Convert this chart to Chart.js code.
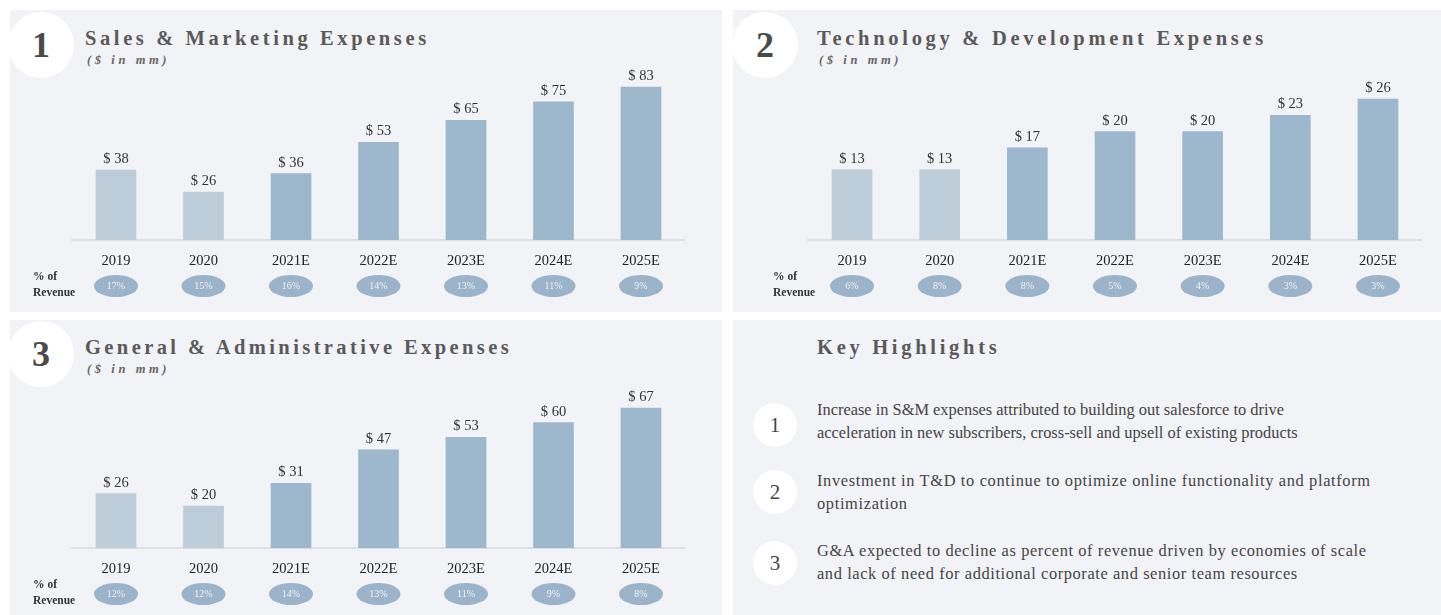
<!DOCTYPE html>
<html><head><meta charset="utf-8">
<script src="https://cdn.jsdelivr.net/npm/chart.js@4.4.0/dist/chart.umd.min.js"></script>
<style>
html,body{margin:0;padding:0;background:#fff;width:1441px;height:615px;overflow:hidden;font-family:"Liberation Serif","DejaVu Serif",serif;}
.panel{position:absolute;background:#f2f3f7;}
.circ{position:absolute;border-radius:50%;background:#fff;display:flex;align-items:center;justify-content:center;color:#4a4a4a;font-family:"Liberation Serif",serif;font-weight:bold;}
.title{position:absolute;color:#5a5a5a;font-weight:bold;font-size:20.5px;letter-spacing:3.6px;white-space:nowrap;}
.sub{position:absolute;color:#666;font-weight:bold;font-style:italic;font-size:12.5px;letter-spacing:3.6px;white-space:nowrap;}
canvas{position:absolute;}
.hl{position:absolute;left:817px;font-size:16.4px;color:#444;line-height:23px;white-space:nowrap;letter-spacing:0px;}
</style></head>
<body>
<div class="panel" style="left:10px;top:10px;width:712px;height:302px"></div>
<div class="panel" style="left:733px;top:10px;width:708px;height:302px"></div>
<div class="panel" style="left:10px;top:320px;width:712px;height:295px"></div>
<div class="panel" style="left:733px;top:320px;width:708px;height:295px"></div>

<div class="circ" style="left:8px;top:12px;width:66px;height:66px;font-size:36px">1</div>
<div class="circ" style="left:732px;top:12px;width:66px;height:66px;font-size:36px">2</div>
<div class="circ" style="left:8px;top:321px;width:66px;height:66px;font-size:36px">3</div>

<div class="title" style="left:85px;top:27px">Sales &amp; Marketing Expenses</div>
<div class="sub" style="left:87px;top:53px">($ in mm)</div>
<div class="title" style="left:817px;top:27px;letter-spacing:3.7px">Technology &amp; Development Expenses</div>
<div class="sub" style="left:819px;top:53px">($ in mm)</div>
<div class="title" style="left:85px;top:336px;letter-spacing:3.4px">General &amp; Administrative Expenses</div>
<div class="sub" style="left:87px;top:362px">($ in mm)</div>
<div class="title" style="left:817px;top:336px;letter-spacing:3.7px">Key Highlights</div>

<div class="circ" style="left:753px;top:403px;width:44px;height:44px;font-size:21px;color:#444;font-weight:normal">1</div>
<div class="circ" style="left:753px;top:470px;width:44px;height:44px;font-size:21px;color:#444;font-weight:normal">2</div>
<div class="circ" style="left:753px;top:541px;width:44px;height:44px;font-size:21px;color:#444;font-weight:normal">3</div>
<div class="hl" style="top:398px">Increase in S&amp;M expenses attributed to building out salesforce to drive<br>acceleration in new subscribers, cross-sell and upsell of existing products</div>
<div class="hl" style="top:469px;letter-spacing:0.65px">Investment in T&amp;D to continue to optimize online functionality and platform<br>optimization</div>
<div class="hl" style="top:539px;letter-spacing:0.6px">G&amp;A expected to decline as percent of revenue driven by economies of scale<br>and lack of need for additional corporate and senior team resources</div>

<canvas id="c1" width="712" height="302" style="left:10px;top:10px;width:712px;height:302px"></canvas>
<canvas id="c2" width="708" height="302" style="left:733px;top:10px;width:708px;height:302px"></canvas>
<canvas id="c3" width="712" height="295" style="left:10px;top:320px;width:712px;height:295px"></canvas>

<script>
const years = ['2019','2020','2021E','2022E','2023E','2024E','2025E'];
const smValues = [38,26,36,53,65,75,83];
const smPct = ['17%','15%','16%','14%','13%','11%','9%'];
const tdValues = [13,13,17,20,20,23,26];
const tdPct = ['6%','8%','8%','5%','4%','3%','3%'];
const gaValues = [26,20,31,47,53,60,67];
const gaPct = ['12%','12%','14%','13%','11%','9%','8%'];

const histColor = '#bccdd9';
const projColor = '#9db7cc';
const serif = '"Liberation Serif","DejaVu Serif",serif';

const decor = {
  id:'decor',
  afterDraw(chart){
    const o = chart.options.plugins.decor;
    const ctx = chart.ctx;
    const meta = chart.getDatasetMeta(0);
    const xs = chart.scales.x;
    const base = chart.chartArea.bottom;
    ctx.save();
    ctx.textAlign='center';
    ctx.textBaseline='alphabetic';
    ctx.fillStyle='#333';
    ctx.font='14.5px '+serif;
    meta.data.forEach((bar,i)=>{
      ctx.fillText('$ '+chart.data.datasets[0].data[i], bar.x, bar.y-7);
    });
    // % of revenue
    ctx.textBaseline='middle';
    o.pct.forEach((p,i)=>{
      const x = xs.getPixelForValue(i);
      const y = base+46;
      ctx.fillStyle='#9bb4c9';
      ctx.beginPath();
      ctx.ellipse(x,y,22,11,0,0,Math.PI*2);
      ctx.fill();
      ctx.fillStyle='#eef2f6';
      ctx.font='10px '+serif;
      ctx.fillText(p,x,y+0.5);
    });
    ctx.fillStyle='#333';
    ctx.font='bold 11.5px '+serif;
    ctx.textAlign='left';
    ctx.fillText('% of', o.labelX, base+37);
    ctx.fillText('Revenue', o.labelX, base+53);
    ctx.restore();
  }
};

function make(id, values, pct, yMax, pad, axisH, labelX){
  new Chart(document.getElementById(id), {
    type:'bar',
    data:{labels:years, datasets:[{data:values,
      backgroundColor:values.map((v,i)=>i<2?histColor:projColor),
      barThickness:40}]},
    options:{
      responsive:false, animation:false,
      layout:{padding:pad},
      plugins:{legend:{display:false},tooltip:{enabled:false},decor:{pct:pct,labelX:labelX}},
      scales:{
        y:{display:false,min:0,max:yMax},
        x:{offset:true,
           grid:{display:false,drawTicks:false},
           border:{display:true,color:'#dcdfe6',width:2},
           ticks:{color:'#222',font:{family:serif,size:14.5},padding:12},
           afterFit:(s)=>{s.height=axisH;}}
      }
    },
    plugins:[decor]
  });
}
make('c1', smValues, smPct, 100, {left:62.25,right:37.25,top:45.7,bottom:0}, 72, 23);
make('c2', tdValues, tdPct, 30, {left:75.2,right:19.2,top:67.4,bottom:0}, 72, 40);
make('c3', gaValues, gaPct, 80, {left:62.25,right:37.25,top:60.8,bottom:0}, 67, 23);
</script>
</body></html>
